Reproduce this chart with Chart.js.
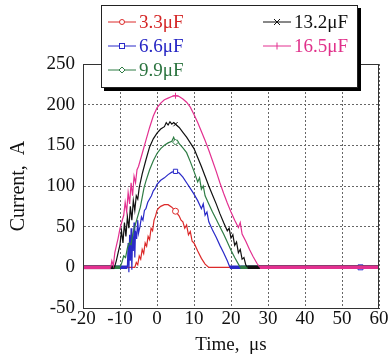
<!DOCTYPE html>
<html><head><meta charset="utf-8">
<script src="https://cdn.jsdelivr.net/npm/chart.js@4"></script>
<style>
html,body{margin:0;padding:0;background:#fff;}
#wrap{position:relative;width:390px;height:357px;}
#legend{position:absolute;left:101px;top:5px;width:255px;height:81px;background:#fff;border:1px solid #222;box-shadow:3px 3px 0 #000;font-family:"Liberation Serif",serif;font-size:19px;z-index:2;}
.item{position:absolute;height:22px;line-height:22px;white-space:nowrap;width:95px;}
.item svg{position:absolute;left:0;top:0;}
.item span{position:absolute;left:31px;top:0;}
</style></head>
<body>
<div id="wrap">
<canvas id="c" width="390" height="357"></canvas>
<div id="legend"></div>
</div>
<script>
// ---- data (time in µs, current in A) ----
const seriesLabels = ["3.3\u03bcF","6.6\u03bcF","9.9\u03bcF","13.2\u03bcF","16.5\u03bcF"];
const xTicks = [-20,-10,0,10,20,30,40,50,60];
const yTicks = [-50,0,50,100,150,200,250];

const t33 = [-20,-6,-5.6,-5.2,-4.8,-4.4,-4,-3.6,-3.2,-2.8,-2.4,-2,-1.6,-1.2,-0.8,-0.4,0,0.5,1,2,3,4,5,6,6.5,7,7.5,8,8.5,9,9.5,10,11,12,13,14,55,60];
const i33 = [0,0,6,3,14,10,22,17,30,26,38,34,48,45,58,63,70,73,75,77,77,74,69,63,58,56,48,52,40,44,32,30,20,11,4,0,0,0];

const t66 = [-20,-8,-7.8,-7.6,-7.4,-7.2,-7,-6.8,-6.6,-6.4,-6.2,-6,-5.8,-5.5,-5.2,-5,-4.6,-4.2,-3.8,-3.4,-3,-2.5,-2,-1.5,-1,-0.5,0,1,2,3,4,5,6,7,8,9,10,11,12,12.5,13,13.5,14,15,16,17,18,19,19.7,55,60];
const i66 = [0,0,30,-6,40,8,48,-3,38,20,55,12,45,35,58,42,50,62,58,70,72,80,84,88,94,97,102,107,110,114,117,118,116,111,104,97,90,82,72,78,64,68,56,46,37,27,18,8,0,0,0];

const t99 = [-20,-10,-9.5,-9,-8.5,-8,-7.5,-7,-6.5,-6,-5.5,-5,-4.5,-4,-3.5,-3,-2,-1,0,1,2,3,4,4.5,5,5.5,6,7,8,9,10,11,11.5,12,12.5,13,14,15,16,17,18,19,20,21,22,22.5,55,60];
const i99 = [0,0,6,14,12,24,30,28,42,50,58,66,74,86,98,106,120,131,140,146,150,153,155,160,154,156,152,147,141,130,118,105,110,96,100,88,78,68,59,50,41,31,21,12,4,0,0,0];

const t132 = [-20,-11.5,-11,-10.5,-10,-9.6,-9.2,-8.8,-8.4,-8,-7.6,-7.2,-6.8,-6.4,-6,-5.6,-5.2,-4.8,-4,-3,-2,-1,0,1,2,2.5,3,3.5,4,4.5,5,6,7,8,9,10,11,12,13,14,15,16,17,18,19,19.5,20,20.5,21,21.5,22,22.5,23,23.5,24,24.5,55,60];
const i132 = [0,0,8,18,28,45,30,55,38,62,48,75,58,82,70,88,84,98,115,132,148,158,165,170,173,178,175,179,176,178,176,172,166,160,153,146,135,124,112,100,89,78,66,55,45,48,36,40,27,31,18,22,10,12,3,0,0,0];

const t165 = [-20,-12.5,-12.2,-11.8,-11.4,-11,-10.5,-10,-9.5,-9,-8.6,-8.2,-7.8,-7.4,-7,-6.6,-6.2,-5.8,-5.4,-5,-4,-3,-2,-1,0,1,2,3,4,5,6,7,8,9,10,11,12,13,14,15,16,17,18,19,20,21,22,22.5,23,24,25,26,27,27.8,55,60];
const i165 = [0,0,8,2,18,26,36,48,56,64,80,68,92,78,104,88,112,104,120,124,140,156,172,186,196,202,206,208,210,211,210,207,203,197,188,178,167,156,144,131,118,104,91,79,68,58,49,55,41,32,22,13,5,0,0,0];

// ---- styling ----
const colors = ["#dc2a2a","#2a2ac8","#2f7d45","#111111","#e33090"];
const textColors = ["#d42626","#2626c4","#2c7440","#111111","#e0308a"];
const markers = ["circle","rect","rectRot","crossRot","cross"];
const times = [t33,t66,t99,t132,t165];
const currents = [i33,i66,i99,i132,i165];
const orders = [4,3,2,1,0];

function pts(t, v){ return t.map((x,k)=>({x:x, y:v[k]})); }

const datasets = seriesLabels.map((lab, s) => ({
  label: lab,
  data: pts(times[s], currents[s]),
  borderColor: colors[s],
  backgroundColor: colors[s],
  borderWidth: 1.2,
  tension: 0,
  order: orders[s],
  pointStyle: markers[s],
  pointRadius: ctx => {
    if (!ctx.raw) return 0;
    if (ctx.raw.x === 5) return 3;
    if (ctx.raw.x === 55 && s === 1) return 3.5;
    return 0;
  },
  pointBorderWidth: 1,
  pointBorderColor: colors[s],
  pointBackgroundColor: '#fff',
  segment: {
    borderWidth: ctx => (s > 0 && ctx.p0.parsed.y === 0 && ctx.p1.parsed.y === 0) ? 3.5 : 1.2
  }
}));

const frame = {
  id: 'frame',
  afterDatasetsDraw(chart){
    const a = chart.chartArea, c = chart.ctx;
    c.save();
    c.strokeStyle = '#333';
    c.lineWidth = 1;
    c.strokeRect(Math.round(a.left)+0.5, Math.round(a.top)+0.5, Math.round(a.right-a.left)-1, Math.round(a.bottom-a.top));
    c.restore();
  }
};

const font = {family: '"Liberation Serif", "Times New Roman", serif', size: 19};

new Chart(document.getElementById('c'), {
  type: 'line',
  data: { datasets },
  options: {
    responsive: false,
    animation: false,
    events: [],
    layout: { padding: { left: 0, right: 11, top: 64, bottom: 0 } },
    plugins: { legend: { display: false }, tooltip: { enabled: false } },
    scales: {
      x: {
        type: 'linear', min: -20, max: 60,
        afterBuildTicks: sc => { sc.ticks = xTicks.map(v => ({value: v})); },
        afterFit: sc => { sc.height = 49; },
        ticks: { font, color: '#111', padding: 0, autoSkip: false, maxRotation: 0 },
        grid: { color: '#666', lineWidth: 1, drawTicks: false },
        border: { display: true, color: '#333', width: 1, dash: [2,2] },
        title: { display: true, text: 'Time,  \u03bcs', font, color: '#111', padding: {top: 0, bottom: 1} }
      },
      y: {
        type: 'linear', min: -50, max: 250,
        afterBuildTicks: sc => { sc.ticks = yTicks.map(v => ({value: v})); },
        afterFit: sc => { sc.width = 83; },
        ticks: { font, color: '#111', padding: 8 },
        grid: { color: '#666', lineWidth: 1, drawTicks: false },
        border: { display: true, color: '#333', width: 1, dash: [2,2] },
        title: { display: true, text: 'Current,  A', font: {family: font.family, size: 20}, color: '#111', padding: {top: 7, bottom: 0} }
      }
    }
  },
  plugins: [frame]
});

// ---- HTML legend ----
const legend = document.getElementById('legend');
const pos = [[6,5],[6,29],[6,53],[161,5],[161,29]];
function markerSvg(style, col){
  const cx = 14, cy = 11;
  if (style === 'circle') return `<circle cx="${cx}" cy="${cy}" r="2.5" fill="#fff" stroke="${col}" stroke-width="1"/>`;
  if (style === 'rect') return `<rect x="${cx-2.5}" y="${cy-2.5}" width="5" height="5" fill="#fff" stroke="${col}" stroke-width="1"/>`;
  if (style === 'rectRot') return `<polygon points="${cx},${cy-3} ${cx+3},${cy} ${cx},${cy+3} ${cx-3},${cy}" fill="#fff" stroke="${col}" stroke-width="1"/>`;
  if (style === 'crossRot') return `<path d="M${cx-3} ${cy-3}L${cx+3} ${cy+3}M${cx-3} ${cy+3}L${cx+3} ${cy-3}" stroke="${col}" stroke-width="1"/>`;
  return `<path d="M${cx} ${cy-3.5}L${cx} ${cy+3.5}" stroke="${col}" stroke-width="1"/>`;
}
seriesLabels.forEach((lab, s) => {
  const d = document.createElement('div');
  d.className = 'item';
  d.style.left = pos[s][0] + 'px';
  d.style.top = pos[s][1] + 'px';
  d.innerHTML = `<svg width="29" height="22"><line x1="0" y1="11" x2="28" y2="11" stroke="${colors[s]}" stroke-width="1"/>${markerSvg(markers[s], colors[s])}</svg><span style="color:${textColors[s]}">${lab}</span>`;
  legend.appendChild(d);
});
</script>
</body></html>
